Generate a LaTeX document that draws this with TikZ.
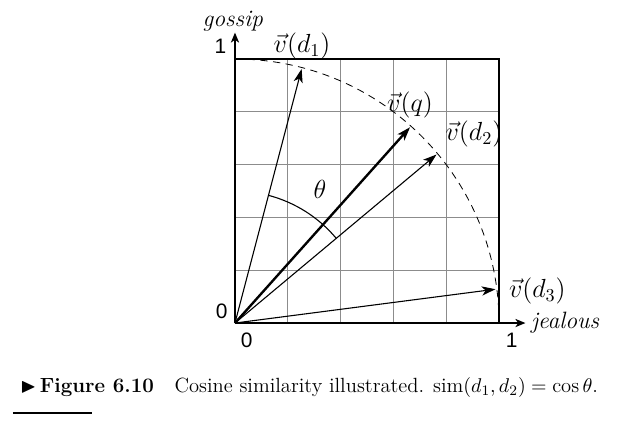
\documentclass[tikz,border=0pt]{standalone}
\usepackage{amsmath,amssymb}
\usepackage{fontspec}
\newfontfamily\axisfont{Liberation Sans}
\usetikzlibrary{
	arrows.meta,
	calc,
	positioning,
}
\tikzset{grid line/.style={draw=black!45,line width=0.45pt,}}
\tikzset{frame/.style={draw=black,line width=0.8pt,}}
\tikzset{axis/.style={line width=0.8pt,-{Stealth[length=5.5pt,width=4.5pt,inset=1.5pt]},}}
\tikzset{vec/.style={line width=0.6pt,-{Stealth[length=7.5pt,width=5pt,inset=2pt]},}}
\tikzset{vec q/.style={vec,line width=1.3pt,}}
\tikzset{vec label/.style={font=\fontsize{14}{16}\selectfont,inner sep=0pt,}}
\tikzset{tick label/.style={font=\fontsize{11.5}{13}\selectfont\axisfont,inner sep=0pt,}}
\tikzset{axis label/.style={font=\fontsize{13}{15}\selectfont\itshape,inner sep=0pt,}}

\begin{document}
\begin{tikzpicture}[x=145.2pt,y=145.2pt]
\useasboundingbox (-0.890,-0.375) rectangle (1.462,1.2235);

\foreach \n in {1,...,4}{
	\pgfmathsetmacro{\t}{\n/5}
	\draw[grid line] (\t,0) -- (\t,1);
	\draw[grid line] (0,\t) -- (1,\t);
}
\draw[frame] (0,1) -- (1,1) -- (1,0);

\coordinate (O) at (0,0);
\coordinate (xend) at (1.1,0);
\coordinate (yend) at (0,1.1);
\draw[axis] (O) -- (xend);
\draw[axis] (O) -- (yend);

% unit circle
\draw[dashed,line width=0.45pt,dash pattern=on 4pt off 3pt] (0,1) arc[start angle=90,end angle=0,radius=1];

\foreach \v/\a in {d1/75.3,q/48.2,d2/39.9,d3/7.4}{
	\coordinate (\v) at (\a:0.995);
}
\foreach \v in {d1,d2,d3}{
	\draw[vec] (O) -- (\v);
}
\draw[vec q] (O) -- (q);

% angle between d1 and d2
\draw[line width=0.6pt] (39.9:0.5) arc[start angle=39.9,end angle=75.3,radius=0.5];
\node[vec label] (theta) at (57.6:0.6) {$\theta$};

\node[vec label] (ld1) at (0.254,1.049) {$\vec{v}(d_1)$};
\node[vec label] (lq) at (0.663,0.826) {$\vec{v}(q)$};
\node[vec label] (ld2) at (0.905,0.716) {$\vec{v}(d_2)$};
\node[vec label] (ld3) at (1.145,0.121) {$\vec{v}(d_3)$};

\node[axis label] (gossip) at (-0.008,1.144) {gossip};
\node[axis label] (jealous) at (1.25,0.0) {jealous};

\node[tick label] (y1) at (-0.055,1.049) {1};
\node[tick label] (y0) at (-0.050,0.043) {0};
\node[tick label] (x0) at (0.044,-0.064) {0};
\node[tick label] (x1) at (1.048,-0.064) {1};

\node[anchor=base west,inner sep=0pt,font=\fontsize{11.3}{13}\selectfont] (caption) at (-0.814,-0.265)
	{$\blacktriangleright$\,\textbf{Figure 6.10}\quad Cosine similarity illustrated. $\mathrm{sim}(d_1,d_2)=\cos\theta$.};
\draw[line width=1.1pt] (-0.841,-0.341) -- (-0.542,-0.341);

\end{tikzpicture}
\end{document}
